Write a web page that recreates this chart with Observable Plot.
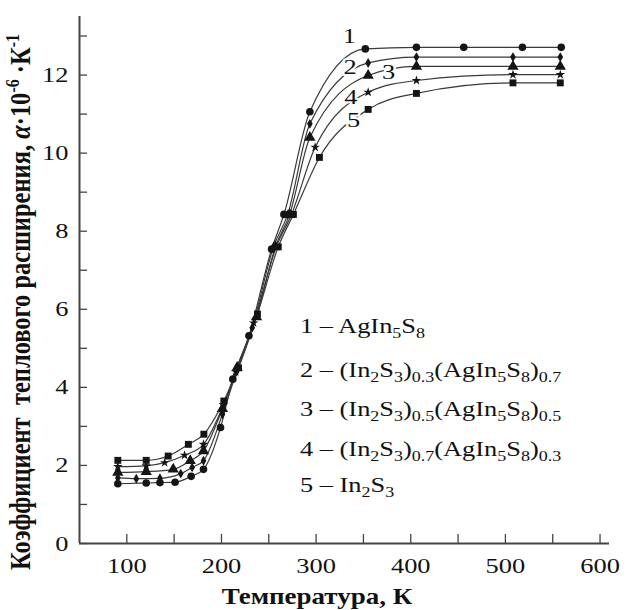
<!DOCTYPE html>
<html><head><meta charset="utf-8">
<script src="https://cdn.jsdelivr.net/npm/d3@7"></script>
<script src="https://cdn.jsdelivr.net/npm/@observablehq/plot@0.6"></script>
<style>body{margin:0;background:#fff}#chart{width:631px;height:610px}</style>
</head><body><div id="chart"></div>
<script>
// ---- data (temperature K, alpha ×10^-6 K^-1) ----
const seriesIds = ["1", "2", "3", "4", "5"];
const s1T = [90.5, 120.5, 135, 151, 168, 181, 199, 212, 229, 253, 266, 293.4, 352, 406, 456, 518, 559];
const s1A = [1.53, 1.55, 1.56, 1.57, 1.72, 1.9, 2.97, 4.21, 5.32, 7.54, 8.43, 11.06, 12.67, 12.71, 12.71, 12.71, 12.71];
const s2T = [90.5, 110, 135, 157, 169, 181, 201, 216, 232.5, 255, 270, 293.4, 355, 406, 508, 558];
const s2A = [1.68, 1.66, 1.67, 1.79, 1.95, 2.12, 3.31, 4.4, 5.53, 7.6, 8.43, 10.75, 12.31, 12.46, 12.46, 12.46];
const s3T = [90.5, 120.5, 149, 167, 181, 201, 216.6, 237, 257, 272, 293.4, 355, 406, 508, 558];
const s3A = [1.82, 1.84, 1.9, 2.12, 2.37, 3.45, 4.51, 5.8, 7.6, 8.43, 10.4, 11.99, 12.22, 12.22, 12.22];
const s4T = [90.5, 120.5, 140, 161, 181, 202, 215, 234, 258, 274, 299, 355, 406, 508, 558];
const s4A = [1.97, 1.99, 2.07, 2.26, 2.54, 3.55, 4.4, 5.65, 7.6, 8.43, 10.15, 11.56, 11.86, 12.01, 12.01];
const s5T = [90.5, 120.5, 143.7, 165, 181.4, 202.5, 218, 238, 260, 276, 303.5, 355, 406, 508, 558];
const s5A = [2.13, 2.13, 2.24, 2.54, 2.8, 3.65, 4.5, 5.88, 7.6, 8.43, 9.89, 11.12, 11.53, 11.8, 11.8];

const seriesSymbols = ["circle", "diamond", "triangle", "star", "square"];
const seriesDotR = [3.8, 3.0, 4.2, 3.0, 3.9];

const curveLabelText = ["1", "2", "3", "4", "5"];
const curveLabelT = [335, 336, 376.5, 336.7, 339.5];
const curveLabelA = [12.99, 12.2, 12.07, 11.43, 10.85];

const xTickLabels = [100, 200, 300, 400, 500, 600];
const xTicks = [100, 150, 200, 250, 300, 350, 400, 450, 500, 550, 600];
const yTickLabels = [0, 2, 4, 6, 8, 10, 12];
const yTicks = [0, 1, 2, 3, 4, 5, 6, 7, 8, 9, 10, 11, 12, 13];

const legendLines = [
  "1 – AgIn_{5}S_{8}",
  "2 – (In_{2}S_{3})_{0.3}(AgIn_{5}S_{8})_{0.7}",
  "3 – (In_{2}S_{3})_{0.5}(AgIn_{5}S_{8})_{0.5}",
  "4 – (In_{2}S_{3})_{0.7}(AgIn_{5}S_{8})_{0.3}",
  "5 – In_{2}S_{3}"
];
const xTitle = "Температура, К";
const yTitle = "Коэффициент  теплового расширения, *α*·10^{-6} ·К^{-1}";

// ---- build rows ----
const allT = [s1T, s2T, s3T, s4T, s5T];
const allA = [s1A, s2A, s3A, s4A, s5A];
const rows = [];
seriesIds.forEach((id, k) => allT[k].forEach((t, i) => rows.push({s: id, T: t, a: allA[k][i], r: seriesDotR[k]})));

const serif = "'Liberation Serif', 'Times New Roman', serif";
const SX = 1.2;
const xDom = [50, 610], yDom = [0, 13.5];
const axisColor = "#444";

const plot = Plot.plot({
  width: 631, height: 610,
  marginLeft: 79, marginRight: 22, marginTop: 16, marginBottom: 67,
  x: {domain: xDom},
  y: {domain: yDom},
  r: {type: "identity"},
  symbol: {domain: seriesIds, range: seriesSymbols},
  style: {fontFamily: serif, background: "white", color: "#111", overflow: "visible"},
  marks: [
    Plot.ruleX(xTicks, {x: d => d, y1: yDom[0], y2: yDom[0] + 0.23, stroke: axisColor, strokeWidth: 1.3}),
    Plot.ruleY(yTicks, {y: d => d, x1: xDom[0], x2: xDom[0] + 8.5, stroke: axisColor, strokeWidth: 1.3}),
    Plot.ruleY([yDom[0]], {x1: xDom[0], x2: xDom[1], stroke: axisColor, strokeWidth: 2}),
    Plot.ruleX([xDom[0]], {y1: yDom[0], y2: yDom[1], stroke: axisColor, strokeWidth: 2}),
    Plot.axisX(xTickLabels, {tickSize: 0, tickPadding: 14, fontSize: 22, label: null}),
    Plot.axisY(yTickLabels, {tickSize: 0, tickPadding: 11, fontSize: 22, label: null}),
    Plot.line(rows, {x: "T", y: "a", z: "s", curve: "monotone-x", stroke: "#3a3a3a", strokeWidth: 1.2}),
    Plot.dot(rows, {x: "T", y: "a", symbol: "s", r: "r", fill: "#151515", stroke: "none"}),
    Plot.text(curveLabelText, {x: (d, i) => curveLabelT[i], y: (d, i) => curveLabelA[i], text: d => d,
      fontSize: 22, fill: "#111", stroke: "white", strokeWidth: 4, paintOrder: "stroke"})
  ]
});
document.getElementById("chart").appendChild(plot);

const svg = d3.select(plot);
// horizontal stretch of glyphs (the reference is slightly widened)
svg.selectAll('g[aria-label="x-axis tick label"] text, g[aria-label="y-axis tick label"] text, g[aria-label="text"] text')
  .each(function() {
    const el = d3.select(this);
    const x0 = parseFloat(el.attr("x")) || 0;
    const tr = el.attr("transform") || "";
    el.attr("transform", `${tr} translate(${x0},0) scale(${SX},1) translate(${-x0},0)`);
  });

function parseRich(str) {
  const re = /_\{([^}]*)\}|\^\{([^}]*)\}|\*([^*]+)\*|([^_^*]+)/g;
  const out = [];
  let m;
  while ((m = re.exec(str))) {
    if (m[1] != null) out.push({t: m[1], sub: true});
    else if (m[2] != null) out.push({t: m[2], sup: true});
    else if (m[3] != null) out.push({t: m[3], it: true});
    else out.push({t: m[4]});
  }
  return out;
}
function richText(parent, str, transform, size, small, weight, anchor) {
  const t = parent.append("text").attr("transform", transform)
    .attr("font-family", serif).attr("font-size", size).attr("font-weight", weight)
    .attr("text-anchor", anchor).attr("fill", "#111").style("white-space", "pre");
  let shift = 0;
  for (const p of parseRich(str)) {
    const ts = t.append("tspan").text(p.t);
    const target = p.sub ? size * 0.24 : p.sup ? -size * 0.38 : 0;
    if (target !== shift) { ts.attr("dy", target - shift); shift = target; }
    if (p.sub || p.sup) ts.attr("font-size", small);
    if (p.it) ts.attr("font-style", "italic");
  }
  return t;
}

const overlay = svg.append("g").attr("class", "annotations");
const legendX = 300, legendBaselines = [333, 377, 416, 456, 492];
legendLines.forEach((s, i) =>
  richText(overlay, s, `translate(${legendX},${legendBaselines[i]}) scale(${SX},1)`, 22, 15, "normal", "start"));

richText(overlay, xTitle, `translate(317,604) scale(${SX},1)`, 22.5, 16, "bold", "middle");
richText(overlay, yTitle, `translate(30,302) rotate(-90) scale(1,${SX})`, 24.5, 16, "bold", "middle");
</script>
</body></html>
